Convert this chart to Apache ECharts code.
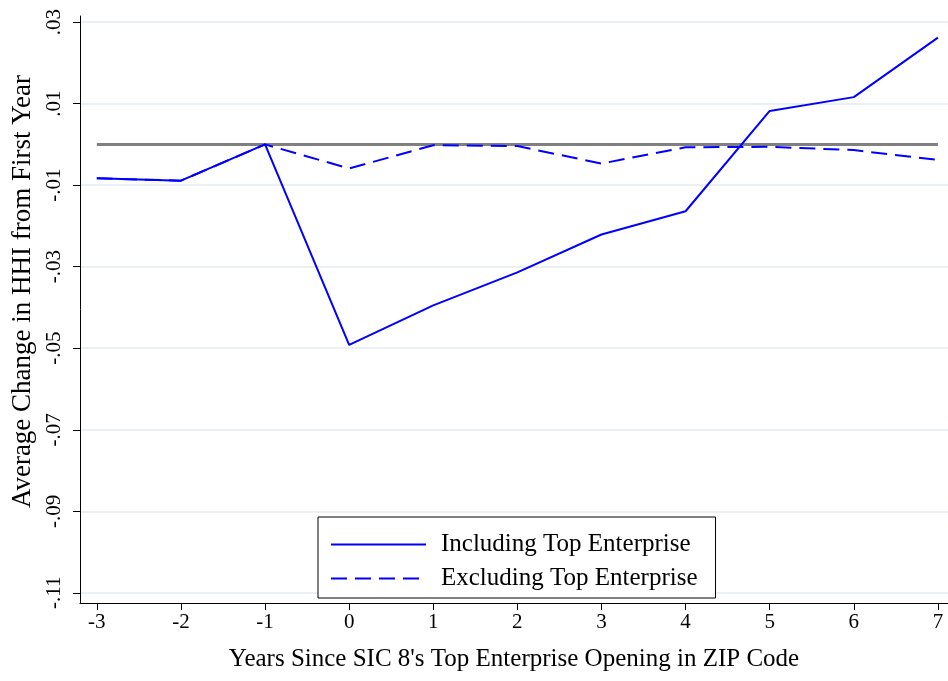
<!DOCTYPE html>
<html>
<head>
<meta charset="utf-8">
<script src="https://cdn.jsdelivr.net/npm/echarts@6/dist/echarts.min.js"></script>
<style>
    html, body {margin: 0; padding: 0; background: #fff;}
    #chart {width: 948px; height: 681px;}
</style>
</head>
<body>
<div id="chart"></div>
<script>
    /*data*/
    var years = [-3, -2, -1, 0, 1, 2, 3, 4, 5, 6, 7];
    var including = [-0.0083, -0.0089, 0, -0.0492, -0.0395, -0.0314, -0.0221, -0.0164, 0.0082, 0.0116, 0.0262];
    var excluding = [-0.0083, -0.0089, 0, -0.0059, -0.0002, -0.0004, -0.0047, -0.0007, -0.0006, -0.0014, -0.0038];
    var zeroLine = [[-3, 0], [7, 0]];
    var xTicks = [-3, -2, -1, 0, 1, 2, 3, 4, 5, 6, 7];
    var yTicks = [-0.11, -0.09, -0.07, -0.05, -0.03, -0.01, 0.01, 0.03];

    var font = 'Liberation Serif';

    function pairs(xs, ys) {
        return xs.map(function (x, i) { return [x, ys[i]]; });
    }

    var myChart = echarts.init(document.getElementById('chart'));
    var option = {
        animation: false,
        backgroundColor: '#fff',
        grid: {
            left: 80,
            right: 0,
            top: 16,
            bottom: 78,
            outerBoundsMode: 'none'
        },
        legend: {
            orient: 'vertical',
            left: 318,
            top: 517,
            data: ['Including Top Enterprise', 'Excluding Top Enterprise'],
            itemWidth: 95,
            itemHeight: 14,
            itemGap: 9,
            padding: [15, 18, 7, 12],
            backgroundColor: '#fff',
            borderColor: '#000',
            borderWidth: 1,
            borderRadius: 0,
            itemStyle: {opacity: 0},   // 图例只画线，不画圆点
            textStyle: {
                fontFamily: font,
                fontSize: 25,
                color: '#000',
                padding: [0, 0, 0, 10]
            }
        },
        xAxis: {
            type: 'value',
            min: -3.2,
            max: 7.12,
            name: "Years Since SIC 8's Top Enterprise Opening in ZIP Code",
            nameLocation: 'middle',
            nameGap: 44,
            nameTextStyle: {fontFamily: font, fontSize: 25, color: '#000'},
            axisLine: {show: true, onZero: false, lineStyle: {color: '#000', width: 1}},
            axisTick: {show: true, length: 7, customValues: xTicks, lineStyle: {color: '#000'}},
            axisLabel: {
                customValues: xTicks,
                margin: 9,
                fontFamily: font,
                fontSize: 21,
                color: '#000'
            },
            splitLine: {show: false}
        },
        yAxis: {
            type: 'value',
            min: -0.1125,
            max: 0.0315,
            name: 'Average Change in HHI from First Year',
            nameLocation: 'middle',
            nameGap: 42,
            nameTextStyle: {fontFamily: font, fontSize: 27, color: '#000', padding: [0, 0, 0, 36]},
            axisLine: {show: true, onZero: false, lineStyle: {color: '#000', width: 1}},
            axisTick: {show: true, length: 7, customValues: yTicks, lineStyle: {color: '#000'}},
            axisLabel: {
                customValues: yTicks,
                rotate: 90,
                margin: 15,
                fontFamily: font,
                fontSize: 21,
                color: '#000',
                formatter: function (v) {
                    return v.toFixed(2).replace('0.', '.');
                }
            },
            splitLine: {show: true, lineStyle: {color: '#eaf0f3', width: 2}}
        },
        series: [
            {
                name: 'zero',
                type: 'line',
                data: zeroLine,
                symbol: 'none',
                z: 1,
                lineStyle: {color: '#808080', width: 3}
            },
            {
                name: 'Including Top Enterprise',
                type: 'line',
                data: pairs(years, including),
                symbol: 'none',
                z: 3,
                color: '#0000ff',
                lineStyle: {color: '#0000ff', width: 2}
            },
            {
                name: 'Excluding Top Enterprise',
                type: 'line',
                data: pairs(years, excluding),
                symbol: 'none',
                z: 2,
                color: '#0000ff',
                lineStyle: {color: '#0000ff', width: 2, type: [16, 8]}
            }
        ]
    };
    myChart.setOption(option);
</script>
</body>
</html>
